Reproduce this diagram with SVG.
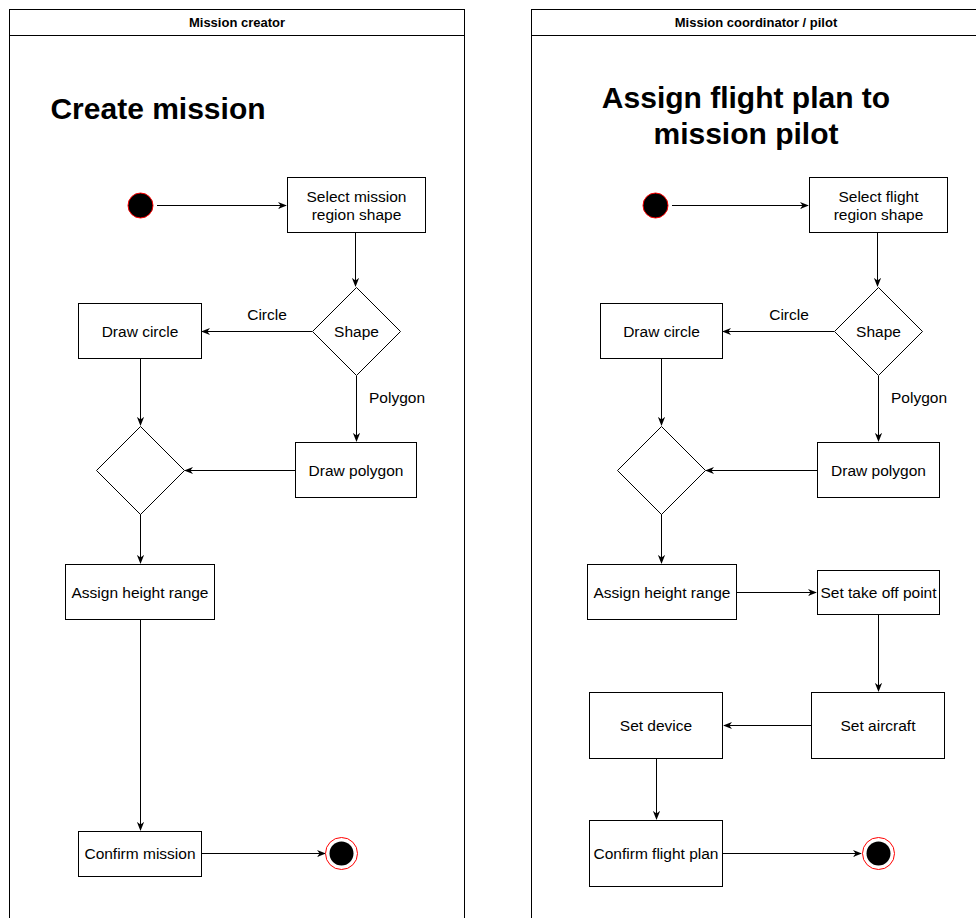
<svg xmlns="http://www.w3.org/2000/svg" width="976" height="918" viewBox="0 0 976 918">
<style>
.lane{fill:#fff;stroke:#000;stroke-width:1}
.box{fill:#fff;stroke:#000;stroke-width:1}
.t{font-family:"Liberation Sans",Arial,sans-serif;font-size:15.5px;fill:#000;text-anchor:middle;dominant-baseline:central}
.h{font-family:"Liberation Sans",Arial,sans-serif;font-size:13px;font-weight:bold;fill:#000;text-anchor:middle;dominant-baseline:central}
.ti{font-family:"Liberation Sans",Arial,sans-serif;font-size:30px;font-weight:bold;fill:#000;text-anchor:middle;dominant-baseline:central}
.e{fill:none;stroke:#000;stroke-width:1}
.start{fill:#000;stroke:#f00;stroke-width:1}
.endo{fill:#fff;stroke:#f00;stroke-width:1}
</style>
<defs>
<marker id="arr" viewBox="0 0 10 10" refX="9" refY="5" markerWidth="9" markerHeight="9" markerUnits="userSpaceOnUse" orient="auto">
<path d="M0,1 L10,5 L0,9 L3,5 Z" fill="#000"/>
</marker>
</defs>
<rect width="976" height="918" fill="#fff"/>
<g id="lane-creator">
<rect class="lane" x="9.5" y="9.5" width="455" height="920"/>
<line class="lane" x1="9.5" y1="35.5" x2="464.5" y2="35.5"/>
<text class="h" x="237" y="22">Mission creator</text>
<text class="ti" x="158" y="108">Create mission</text>
</g>
<g id="lane-coordinator">
<rect class="lane" x="531.5" y="9.5" width="450" height="920"/>
<line class="lane" x1="531.5" y1="35.5" x2="981" y2="35.5"/>
<text class="h" x="756" y="22">Mission coordinator / pilot</text>
<text class="ti" x="746" y="97">Assign flight plan to</text>
<text class="ti" x="746" y="133">mission pilot</text>
</g>
<g id="connectors">
<path class="e" d="M157,205.5 H286" marker-end="url(#arr)"/>
<path class="e" d="M355.5,232 V286" marker-end="url(#arr)"/>
<path class="e" d="M312,331.5 H202" marker-end="url(#arr)"/>
<text class="t" x="267" y="314">Circle</text>
<path class="e" d="M356.5,376 V441" marker-end="url(#arr)"/>
<text class="t" x="397" y="397">Polygon</text>
<path class="e" d="M140.5,359 V425" marker-end="url(#arr)"/>
<path class="e" d="M295,470.5 H185" marker-end="url(#arr)"/>
<path class="e" d="M140.5,514 V563" marker-end="url(#arr)"/>
<path class="e" d="M140.5,620 V830" marker-end="url(#arr)"/>
<path class="e" d="M201,853.5 H325" marker-end="url(#arr)"/>

<path class="e" d="M672,205.5 H808" marker-end="url(#arr)"/>
<path class="e" d="M877.5,232 V286" marker-end="url(#arr)"/>
<path class="e" d="M834,331.5 H723" marker-end="url(#arr)"/>
<text class="t" x="789" y="314">Circle</text>
<path class="e" d="M878.5,376 V441" marker-end="url(#arr)"/>
<text class="t" x="919" y="397">Polygon</text>
<path class="e" d="M661.5,359 V425" marker-end="url(#arr)"/>
<path class="e" d="M817,470.5 H706" marker-end="url(#arr)"/>
<path class="e" d="M661.5,514 V563" marker-end="url(#arr)"/>
<path class="e" d="M737,592.5 H816" marker-end="url(#arr)"/>
<path class="e" d="M878.5,614 V691" marker-end="url(#arr)"/>
<path class="e" d="M811,725.5 H724" marker-end="url(#arr)"/>
<path class="e" d="M656.5,759 V819" marker-end="url(#arr)"/>
<path class="e" d="M723,853.5 H861" marker-end="url(#arr)"/>
</g>

<g id="start1"><circle class="start" cx="140.5" cy="205.5" r="12.5"/></g>
<g id="select-mission"><rect class="box" x="287.5" y="177.5" width="138" height="55"/><text class="t" x="356.5" y="196">Select mission</text><text class="t" x="356.5" y="214">region shape</text></g>
<g id="shape1"><polygon class="box" points="356.5,287.5 400.5,331.5 356.5,375.5 312.5,331.5"/><text class="t" x="356.5" y="331.5">Shape</text></g>
<g id="draw-circle1"><rect class="box" x="78.5" y="303.5" width="123" height="55"/><text class="t" x="140" y="331.5">Draw circle</text></g>
<g id="draw-polygon1"><rect class="box" x="295.5" y="442.5" width="121" height="55"/><text class="t" x="356" y="470">Draw polygon</text></g>
<g id="merge1"><polygon class="box" points="140.5,426.5 184.5,470.5 140.5,514.5 96.5,470.5"/></g>
<g id="height1"><rect class="box" x="65.5" y="564.5" width="149" height="55"/><text class="t" x="140" y="592">Assign height range</text></g>
<g id="confirm-mission"><rect class="box" x="78.5" y="831.5" width="123" height="45"/><text class="t" x="140" y="853.5">Confirm mission</text></g>
<g id="end1"><circle class="endo" cx="341.5" cy="853.5" r="16"/><circle fill="#000" cx="341.5" cy="853.5" r="12"/></g>

<g id="start2"><circle class="start" cx="655.5" cy="205.5" r="12.5"/></g>
<g id="select-flight"><rect class="box" x="809.5" y="177.5" width="138" height="55"/><text class="t" x="878.5" y="196">Select flight</text><text class="t" x="878.5" y="214">region shape</text></g>
<g id="shape2"><polygon class="box" points="878.5,287.5 922.5,331.5 878.5,375.5 834.5,331.5"/><text class="t" x="878.5" y="331.5">Shape</text></g>
<g id="draw-circle2"><rect class="box" x="600.5" y="303.5" width="122" height="55"/><text class="t" x="661.5" y="331.5">Draw circle</text></g>
<g id="draw-polygon2"><rect class="box" x="817.5" y="442.5" width="122" height="55"/><text class="t" x="878.5" y="470">Draw polygon</text></g>
<g id="merge2"><polygon class="box" points="661.5,426.5 705.5,470.5 661.5,514.5 617.5,470.5"/></g>
<g id="height2"><rect class="box" x="587.5" y="564.5" width="149" height="55"/><text class="t" x="662" y="592">Assign height range</text></g>
<g id="takeoff"><rect class="box" x="817.5" y="570.5" width="122" height="44"/><text class="t" x="878.5" y="592.5">Set take off point</text></g>
<g id="aircraft"><rect class="box" x="811.5" y="692.5" width="133" height="66"/><text class="t" x="878" y="725.5">Set aircraft</text></g>
<g id="device"><rect class="box" x="589.5" y="692.5" width="133" height="66"/><text class="t" x="656" y="725.5">Set device</text></g>
<g id="confirm-flight"><rect class="box" x="589.5" y="820.5" width="133" height="66"/><text class="t" x="656" y="853.5">Confirm flight plan</text></g>
<g id="end2"><circle class="endo" cx="878.5" cy="853.5" r="16"/><circle fill="#000" cx="878.5" cy="853.5" r="12"/></g>
</svg>
